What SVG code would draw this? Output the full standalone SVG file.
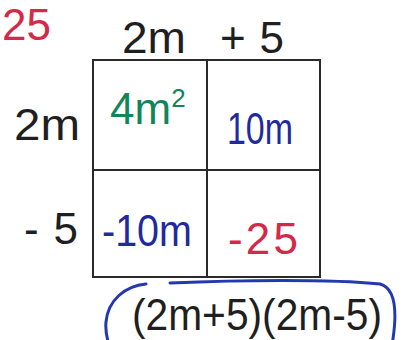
<svg xmlns="http://www.w3.org/2000/svg" width="404" height="340" viewBox="0 0 404 340">
<style>
.t{font-family:"Liberation Sans","DejaVu Sans",sans-serif;font-size:44px;}
.k{fill:#1f1f1f}
.g{fill:#12855a}
.b{fill:#1f2a9c}
.r{fill:#d4294a}
.grid{fill:none;stroke:#2a2a2a;stroke-width:2}
.loop{fill:none;stroke:#2438b0;stroke-width:3;stroke-linecap:round}
</style>
<rect width="404" height="340" fill="#ffffff"/>
<text class="t r" x="2" y="40" font-size="24">25</text>
<g id="top-labels">
<text class="t k" x="122" y="53" textLength="64" lengthAdjust="spacingAndGlyphs">2m</text>
<text class="t k" x="220" y="53" textLength="64" lengthAdjust="spacing">+5</text>
</g>
<g id="side-labels">
<text class="t k" x="14" y="140" textLength="66" lengthAdjust="spacingAndGlyphs">2m</text>
<text class="t k" x="24" y="244" textLength="54" lengthAdjust="spacing">-5</text>
</g>
<g id="grid">
<rect class="grid" x="93" y="60" width="227" height="217"/>
<line class="grid" x1="207" y1="60" x2="207" y2="277"/>
<line class="grid" x1="93" y1="170" x2="320" y2="170"/>
</g>
<g id="cell-4m2"><text class="t g" x="110" y="124" font-size="40">4m<tspan dy="-17" font-size="26">2</tspan></text></g>
<g id="cell-10m"><text class="t b" x="227" y="144" font-size="48" textLength="66" lengthAdjust="spacingAndGlyphs">10m</text></g>
<g id="cell-neg10m"><text class="t b" x="102" y="246" font-size="48" textLength="90" lengthAdjust="spacingAndGlyphs">-10m</text></g>
<g id="cell-neg25"><text class="t r" x="228" y="254" font-size="48" textLength="70" lengthAdjust="spacing">-25</text></g>
<g id="answer">
<path class="loop" d="M146,284 C125,286 108,300 106,322 C105,332 107,338 109,345"/>
<path class="loop" d="M170,283 C240,280 330,279 380,284 C395,288 398,310 392,345"/>
<text class="t k" x="132" y="330" font-size="36" textLength="250" lengthAdjust="spacingAndGlyphs">(2m+5)(2m-5)</text>
</g>
</svg>
